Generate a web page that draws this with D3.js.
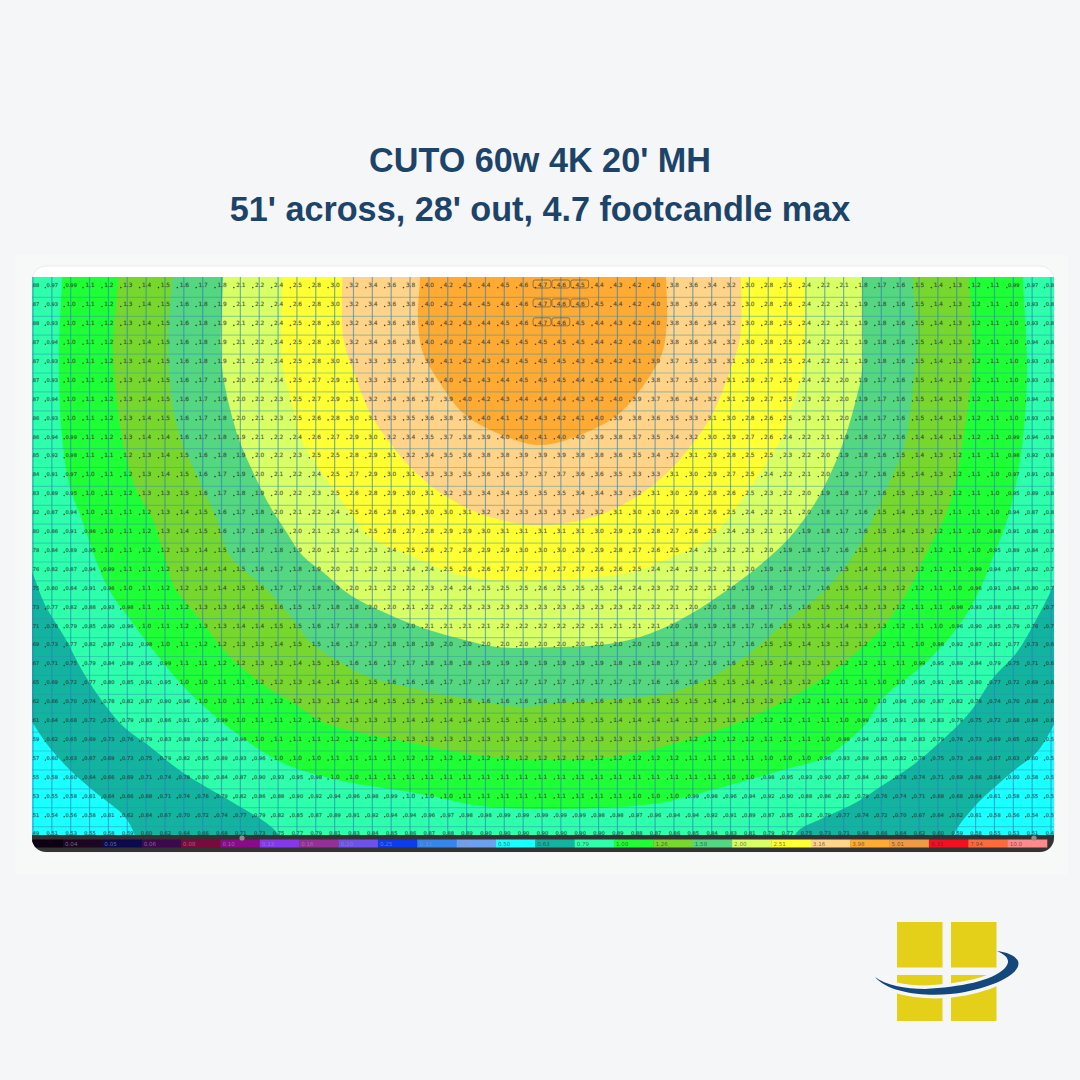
<!DOCTYPE html>
<html><head><meta charset="utf-8">
<script src="https://cdnjs.cloudflare.com/ajax/libs/d3/7.8.5/d3.min.js"></script>
<style>html,body{margin:0;padding:0;background:#f4f6f8}svg{display:block}</style>
</head><body><svg id="c" width="1080" height="1080"></svg>
<script>
const titleLines = ["CUTO 60w 4K 20' MH", "51' across, 28' out, 4.7 footcandle max"];

// legend
const legendLabels = ["","0.04","0.05","0.06","0.08","0.10","0.13","0.16","0.20","0.25","0.32","0.40","0.50","0.63","0.79","1.00","1.26","1.58","2.00","2.51","3.16","3.98","5.01","6.31","7.94","10.0"];
const legendColors = ["#0e0014","#1c0622","#0a0a4c","#3c0a4c","#7a0a3c","#8a0a8a","#8338ec","#932f95","#6c52e8","#0d3cee","#3585ea","#6ea0f0","#1affff","#12b4a0","#2dffab","#1fff35","#78d72d","#55d680","#d9ff66","#ffff33","#ffd488","#ffab33","#f09a45","#f01020","#ff6a3a","#ff8a8a"];

// illuminance readings (footcandles), left half out to the centre column; the plot mirrors about it
const cellRows = [
[.88,.97,.99,1.1,1.2,1.3,1.4,1.5,1.6,1.7,1.8,2.1,2.2,2.4,2.5,2.8,3.0,3.2,3.4,3.6,3.8,4.0,4.2,4.3,4.4,4.5,4.6,4.7],
[.87,.93,1.0,1.1,1.2,1.3,1.4,1.5,1.6,1.8,1.9,2.1,2.2,2.4,2.6,2.8,3.0,3.2,3.4,3.6,3.8,4.0,4.2,4.4,4.5,4.6,4.6,4.7],
[.88,.93,1.0,1.1,1.2,1.3,1.4,1.5,1.6,1.8,1.9,2.1,2.2,2.4,2.5,2.8,3.0,3.2,3.4,3.6,3.8,4.0,4.2,4.3,4.4,4.5,4.6,4.7],
[.87,.94,1.0,1.1,1.2,1.3,1.4,1.5,1.6,1.8,1.9,2.1,2.2,2.4,2.5,2.8,3.0,3.2,3.4,3.6,3.8,4.0,4.0,4.2,4.4,4.5,4.5,4.5],
[.87,.93,1.0,1.1,1.2,1.3,1.4,1.5,1.6,1.8,1.9,2.1,2.2,2.4,2.5,2.8,3.0,3.1,3.3,3.5,3.7,3.9,4.1,4.2,4.3,4.3,4.5,4.5],
[.87,.93,1.0,1.1,1.2,1.3,1.4,1.5,1.6,1.7,1.9,2.0,2.2,2.4,2.5,2.7,2.9,3.1,3.3,3.5,3.7,3.8,4.0,4.1,4.3,4.4,4.5,4.5],
[.87,.94,1.0,1.1,1.2,1.3,1.4,1.5,1.6,1.7,1.9,2.0,2.2,2.3,2.5,2.7,2.9,3.1,3.2,3.4,3.6,3.7,3.9,4.0,4.2,4.3,4.4,4.4],
[.86,.93,1.0,1.1,1.2,1.3,1.4,1.5,1.6,1.7,1.8,2.0,2.1,2.3,2.5,2.6,2.8,3.0,3.1,3.3,3.5,3.6,3.8,3.9,4.0,4.1,4.2,4.3],
[.86,.94,.99,1.1,1.2,1.3,1.4,1.4,1.6,1.7,1.8,1.9,2.1,2.2,2.4,2.6,2.7,2.9,3.0,3.2,3.4,3.5,3.7,3.8,3.9,4.0,4.0,4.1],
[.85,.92,.98,1.1,1.1,1.2,1.3,1.4,1.5,1.6,1.8,1.9,2.0,2.2,2.3,2.5,2.5,2.8,2.9,3.1,3.2,3.4,3.5,3.6,3.8,3.8,3.9,3.9],
[.84,.91,.97,1.0,1.1,1.2,1.3,1.4,1.5,1.6,1.7,1.9,2.0,2.1,2.2,2.4,2.5,2.7,2.9,3.0,3.1,3.3,3.3,3.5,3.6,3.6,3.7,3.7],
[.83,.89,.95,1.0,1.1,1.2,1.3,1.3,1.5,1.6,1.7,1.8,1.9,2.0,2.2,2.3,2.5,2.6,2.8,2.9,3.0,3.1,3.2,3.3,3.4,3.4,3.5,3.5],
[.82,.87,.94,1.0,1.1,1.1,1.2,1.3,1.4,1.5,1.6,1.7,1.8,2.0,2.1,2.2,2.4,2.5,2.6,2.8,2.9,3.0,3.0,3.1,3.2,3.2,3.3,3.3],
[.80,.86,.91,.98,1.0,1.1,1.2,1.3,1.4,1.5,1.6,1.7,1.8,1.9,2.0,2.1,2.3,2.4,2.5,2.6,2.7,2.8,2.9,2.9,3.0,3.1,3.1,3.1],
[.78,.84,.89,.95,1.0,1.1,1.2,1.2,1.3,1.4,1.5,1.6,1.7,1.8,1.9,2.0,2.1,2.2,2.3,2.4,2.5,2.6,2.7,2.8,2.9,2.9,3.0,3.0],
[.76,.82,.87,.94,.99,1.1,1.1,1.2,1.3,1.4,1.4,1.5,1.6,1.7,1.8,1.9,2.0,2.1,2.2,2.3,2.4,2.4,2.5,2.6,2.6,2.7,2.7,2.7],
[.75,.80,.84,.91,.96,1.0,1.1,1.2,1.2,1.3,1.4,1.5,1.6,1.7,1.7,1.8,1.9,2.0,2.1,2.2,2.2,2.3,2.4,2.4,2.5,2.5,2.5,2.6],
[.73,.77,.82,.88,.93,.98,1.1,1.1,1.2,1.3,1.3,1.4,1.5,1.6,1.5,1.7,1.8,1.8,2.0,2.0,2.1,2.2,2.2,2.3,2.3,2.3,2.3,2.3],
[.71,.76,.79,.85,.90,.96,1.0,1.1,1.2,1.3,1.3,1.4,1.4,1.5,1.5,1.6,1.7,1.8,1.9,1.9,2.0,2.1,2.1,2.1,2.1,2.2,2.2,2.2],
[.69,.73,.77,.82,.87,.92,.98,1.0,1.1,1.2,1.2,1.3,1.3,1.4,1.5,1.5,1.6,1.7,1.7,1.8,1.8,1.9,2.0,2.0,2.0,2.0,2.0,2.0],
[.67,.71,.75,.79,.84,.89,.95,.99,1.1,1.1,1.2,1.2,1.3,1.3,1.4,1.5,1.5,1.6,1.6,1.7,1.7,1.8,1.8,1.8,1.9,1.9,1.9,1.9],
[.65,.69,.72,.77,.80,.85,.91,.95,1.0,1.0,1.1,1.1,1.2,1.2,1.3,1.4,1.4,1.5,1.5,1.6,1.6,1.6,1.7,1.7,1.7,1.7,1.7,1.7],
[.62,.66,.70,.74,.78,.82,.87,.90,.96,1.0,1.0,1.1,1.1,1.2,1.2,1.3,1.3,1.4,1.4,1.5,1.5,1.5,1.6,1.6,1.6,1.6,1.6,1.6],
[.61,.64,.68,.72,.75,.79,.83,.86,.91,.95,.99,1.0,1.1,1.1,1.2,1.2,1.2,1.3,1.3,1.3,1.4,1.4,1.4,1.4,1.5,1.5,1.5,1.5],
[.59,.62,.65,.69,.73,.76,.79,.83,.88,.92,.94,.98,1.0,1.1,1.1,1.1,1.2,1.2,1.2,1.2,1.3,1.3,1.3,1.3,1.3,1.3,1.3,1.3],
[.57,.60,.63,.67,.69,.73,.75,.79,.82,.85,.89,.93,.96,1.0,1.0,1.0,1.1,1.1,1.1,1.1,1.2,1.2,1.2,1.2,1.2,1.2,1.2,1.2],
[.55,.58,.60,.64,.66,.69,.71,.74,.78,.80,.84,.87,.90,.93,.95,.98,1.0,1.0,1.1,1.1,1.1,1.1,1.1,1.1,1.1,1.1,1.1,1.1],
[.53,.55,.58,.61,.64,.66,.68,.71,.74,.76,.79,.82,.86,.88,.90,.92,.94,.96,.98,.99,1.0,1.0,1.0,1.1,1.1,1.1,1.1,1.1],
[.51,.54,.56,.58,.61,.62,.64,.67,.70,.72,.74,.77,.79,.82,.85,.87,.89,.91,.92,.94,.94,.96,.97,.98,.98,.99,.99,.99],
[.49,.51,.53,.55,.58,.59,.60,.62,.64,.66,.68,.71,.73,.75,.77,.79,.81,.83,.84,.85,.86,.87,.88,.89,.90,.90,.90,.90]
];
const maxCells = [[0,27],[0,28],[0,29],[1,27],[1,28],[1,29],[2,27],[2,28]];

// isolux contours in grid units (column, row), outermost first
const level050 = [[-.69,22.06],[-.05,23.12],[.9,24.5],[2.07,25.77],[3.29,26.83],[4.88,28.15],[5.41,29.15],[5.68,30.42],[48.65,30.42],[48.81,29.15],[49.87,27.67],[51.14,26.46],[52.2,25.56],[53.26,24.71],[54.16,23.28],[54.8,22.22]];
const level063 = [[-.69,13.76],[-.05,15.19],[.64,16.93],[1.7,18.68],[2.65,20.48],[3.82,22.22],[4.88,23.44],[6.1,24.34],[7.9,25.77],[10.56,27.35],[12.31,28.41],[13,29.05],[13.63,30.42],[39.89,30.42],[40.53,28.94],[41.91,28.2],[43.71,27.35],[45.09,26.46],[46.68,25.4],[48.12,24.18],[49.71,22.59],[50.93,20.79],[52.2,19.42],[53.26,17.62],[54.16,15.87],[54.8,14.55]];
const level079 = [[1.54,-1.22],[1.54,-.26],[1.38,3.6],[1.54,8.04],[1.96,10.69],[2.6,12.43],[3.24,14.29],[3.98,16.03],[5.25,17.83],[6.58,19.58],[8.06,21.32],[10.03,23.12],[12.47,24.87],[13.9,25.56],[16.66,26.3],[20,26.83],[21.59,27.14],[23.71,27.57],[26.95,27.72],[30.08,27.67],[33.26,27.41],[35.01,26.98],[36.98,26.46],[40.16,25.56],[41.91,25.03],[44.03,23.39],[45.09,21.85],[47.21,20.11],[49.02,18.15],[50.08,16.4],[50.93,14.39],[51.83,11.9],[52.52,8.04],[52.73,4.5],[52.52,-.26],[52.52,-1.22]];
const level100 = [[4.51,-1.22],[4.51,-.42],[4.24,3.6],[4.46,6.24],[4.72,8.04],[5.41,10.69],[6.37,12.43],[6.95,14.34],[7.53,16.03],[8.97,17.83],[10.34,19.58],[12.47,21.32],[13.74,22.06],[15.38,23.12],[17.19,23.65],[19.84,24.18],[22.49,24.71],[25.15,25.03],[27.8,25.13],[31.14,24.92],[34.32,24.18],[37.51,23.12],[40.16,21.85],[41.91,20.79],[43.71,19.42],[45.31,17.83],[46.68,15.71],[47.32,14.34],[48.65,11.53],[49.34,8.04],[49.81,4.5],[49.71,.63],[49.55,-1.22]];
const level126 = [[7.37,-1.22],[7.37,-.42],[7.16,2.75],[7.37,6.24],[7.8,8.04],[8.97,10.69],[9.76,12.43],[10.45,14.34],[12.31,16.03],[13.74,17.62],[14.69,18.89],[16.29,19.95],[17.51,20.63],[19.84,21.27],[22.49,21.8],[25.99,22.33],[27.8,22.12],[31.14,21.9],[34.32,21.43],[37.51,19.84],[40.16,17.62],[41.91,16.24],[43.5,14.34],[45.31,10.69],[46.26,8.36],[46.68,5.4],[46.9,2.75],[46.68,-.26],[46.68,-1.22]];
const level158 = [[10.08,-1.22],[10.08,-.37],[9.97,3.6],[10.19,5.4],[10.88,8.04],[11.62,9.79],[12.47,11.53],[13.37,12.96],[14.32,14.34],[15.38,15.19],[16.82,16.4],[18.94,17.46],[20.69,18.15],[22.49,18.68],[24.62,19.15],[27.8,19.15],[30.08,19.05],[32.2,18.62],[34.32,17.72],[36.45,16.4],[38.57,14.81],[40.16,13.33],[41.49,11.53],[42.39,9.79],[43.08,8.04],[43.61,6.24],[43.98,4.5],[43.98,-.37],[43.98,-1.22]];
const level200 = [[13.21,-1.22],[13.21,.42],[13.21,4.13],[13.74,6.24],[14.16,8.04],[15.23,9.79],[16.45,11.53],[17.88,13.33],[20.11,14.34],[22.12,15.19],[24.24,15.61],[27.8,15.61],[31.78,15.19],[33.9,14.39],[36.02,13.33],[37.45,11.53],[38.67,9.79],[39.73,8.04],[40.16,6.61],[40.85,4.5],[40.95,-.37],[40.95,-1.22]];
const level251 = [[16.45,-1.22],[16.45,2.75],[16.98,4.5],[17.88,6.77],[18.94,8.36],[20.16,9.79],[21.96,11.22],[24.24,12.28],[26.9,12.7],[29.71,12.28],[31.99,11.22],[33.79,9.79],[35.01,8.36],[36.07,6.77],[36.98,4.5],[37.51,2.75],[37.51,-1.22]];
const level316 = [[20.53,-1.22],[20.53,-.37],[20.42,1.85],[20.69,3.6],[21.59,5.19],[22.81,6.77],[24.62,7.83],[26.9,8.47],[29.28,7.83],[31.14,6.77],[32.47,5.19],[33.37,3.6],[33.63,1.85],[33.58,-.37],[33.58,-1.22]];
const bandLevels = [level050, level063, level079, level100, level126, level158, level200, level251, level316];
const bandColors = ["#12b4a0","#2dffab","#1fff35","#78d72d","#55d680","#d9ff66","#ffff33","#ffd488","#ffab33"];
const baseColor = "#1affff";

const svg = d3.select("#c");
const X = d3.scaleLinear().domain([0,54]).range([33,1051]);
const Y = d3.scaleLinear().domain([0,29]).range([285,833.1]);
const L = d3.scaleLinear().domain([1,26]).range([63,1047]);
const rowH = Y(1)-Y(0), colW = X(1)-X(0);

svg.append("rect").attr("width",1080).attr("height",1080).attr("fill","#f4f6f8");
svg.append("rect").attr("x",15).attr("y",255).attr("width",1053).attr("height",620).attr("fill","#f7f8f8");

svg.selectAll("text.title").data(titleLines).join("text").attr("class","title")
  .attr("x",540).attr("y",(d,i)=>172+i*48.5).attr("text-anchor","middle")
  .attr("font-family","'Liberation Sans', Arial, sans-serif").attr("font-weight",700).attr("font-size",34.2)
  .attr("fill","#1d4468").text(d=>d);

// card
svg.append("rect").attr("x",32).attr("y",266).attr("width",1022).attr("height",586).attr("rx",14)
  .attr("fill","#fff").attr("stroke","#e9ecef").attr("stroke-width",1);
const defs = svg.append("defs");
defs.append("clipPath").attr("id","card").append("rect").attr("x",32).attr("y",266).attr("width",1022).attr("height",586).attr("rx",14);
defs.append("clipPath").attr("id","plot").append("rect").attr("x",32).attr("y",277).attr("width",1022).attr("height",558);
defs.append("clipPath").attr("id","halo").append("rect").attr("x",860).attr("y",968).attr("width",170).attr("height",60);

const outer = svg.append("g").attr("clip-path","url(#card)");
const plot = outer.append("g").attr("clip-path","url(#plot)");
plot.append("rect").attr("x",20).attr("y",270).attr("width",1050).attr("height",570).attr("fill",baseColor);

const line = d3.line().x(d=>X(d[0])).y(d=>Y(d[1])).curve(d3.curveCatmullRom.alpha(.5));
const closeTop = "L"+X(56)+","+Y(-2)+"L"+X(-2)+","+Y(-2)+"Z";
plot.selectAll("path.band").data(bandLevels).join("path").attr("class","band")
  .attr("d",d=>line(d)+closeTop).attr("fill",(d,i)=>bandColors[i]);

// grid
const colIdx = d3.range(0,55), rowIdx = d3.range(0,30);
plot.selectAll("line.v").data(colIdx).join("line").attr("class","v")
  .attr("x1",d=>X(d)).attr("x2",d=>X(d)).attr("y1",277).attr("y2",835)
  .attr("stroke","#2a7fc0").attr("stroke-opacity",.6).attr("stroke-width",1.2);
plot.selectAll("line.h").data(rowIdx).join("line").attr("class","h")
  .attr("x1",32).attr("x2",1054).attr("y1",d=>Y(d)+rowH*.655).attr("y2",d=>Y(d)+rowH*.655)
  .attr("stroke","#2f8fb0").attr("stroke-opacity",.4).attr("stroke-width",1.2);

// cell values: a wide, low-contrast stroke stands in for the soft look of the source image
const cells = [];
cellRows.forEach((row,r)=>colIdx.forEach(k=>cells.push({r,k,v:row[k<=27?k:54-k]})));
const fmt = v => v<1 ? v.toFixed(2) : v.toFixed(1);
plot.selectAll("circle.pt").data(cells).join("circle").attr("class","pt")
  .attr("cx",d=>X(d.k)-6.5).attr("cy",d=>Y(d.r)+2.6).attr("r",.8).attr("fill","#222").attr("fill-opacity",.8);
plot.selectAll("text.val").data(cells).join("text").attr("class","val")
  .attr("x",d=>X(d.k)+.5).attr("y",d=>Y(d.r)+2.3).attr("text-anchor","middle")
  .attr("font-family","'DejaVu Sans', sans-serif").attr("font-weight",400).attr("font-size",d=>d.v<1?5.2:5.8)
  .attr("fill","#2a2a2a").attr("fill-opacity",.7)
  .attr("stroke","#2a2a2a").attr("stroke-opacity",.22).attr("stroke-width",.7).text(d=>fmt(d.v));
plot.selectAll("rect.max").data(maxCells).join("rect").attr("class","max")
  .attr("x",d=>X(d[1])-colW/2+.5).attr("y",d=>Y(d[0])-5).attr("width",colW-1).attr("height",8)
  .attr("rx",2).attr("fill","none").attr("stroke","#444").attr("stroke-opacity",.7).attr("stroke-width",.8);

// legend strip
outer.append("rect").attr("x",30).attr("y",835).attr("width",1026).attr("height",18).attr("fill","#333");
const legIdx = d3.range(0,26);
outer.selectAll("rect.leg").data(legIdx).join("rect").attr("class","leg")
  .attr("x",d=>d===0?32:L(d)).attr("y",839.5).attr("height",8)
  .attr("width",d=>d===0?L(1)-32:L(d+1)-L(d)+.3).attr("fill",d=>legendColors[d]);
outer.selectAll("text.leg").data(legIdx.slice(1)).join("text").attr("class","leg")
  .attr("x",d=>L(d)+2).attr("y",846).attr("font-family","'DejaVu Sans',sans-serif").attr("font-size",5.6)
  .attr("fill",d=>d<12?"#9a8fb0":"#333").attr("fill-opacity",.7).text(d=>legendLabels[d]);
outer.selectAll("circle.handle").data([242,1034]).join("circle").attr("class","handle")
  .attr("cx",d=>d).attr("cy",838).attr("r",2.6).attr("fill","#8c8c8c");

// logo
const logo = svg.append("g");
[[897,922,45.5,45.5],[951,922,45.5,45.5],[897,975,45.5,46],[951,975,45.5,46]].forEach(r=>
  logo.append("rect").attr("x",r[0]).attr("y",r[1]).attr("width",r[2]).attr("height",r[3]).attr("fill","#e4d018"));
const swoosh = "M875,977C890,995 935,998 965,992C1000,985 1022,972 1018,961C1015,955 1006,952 997,951C1008,956 1011,961 1005,968C993,981 960,987 925,989C905,989 885,985 875,977Z";
logo.append("g").attr("clip-path","url(#halo)").append("path").attr("d",swoosh).attr("fill","#f4f6f8").attr("stroke","#f4f6f8").attr("stroke-width",7).attr("stroke-linejoin","round");
logo.append("path").attr("d",swoosh).attr("fill","#14477c");
</script></body></html>
